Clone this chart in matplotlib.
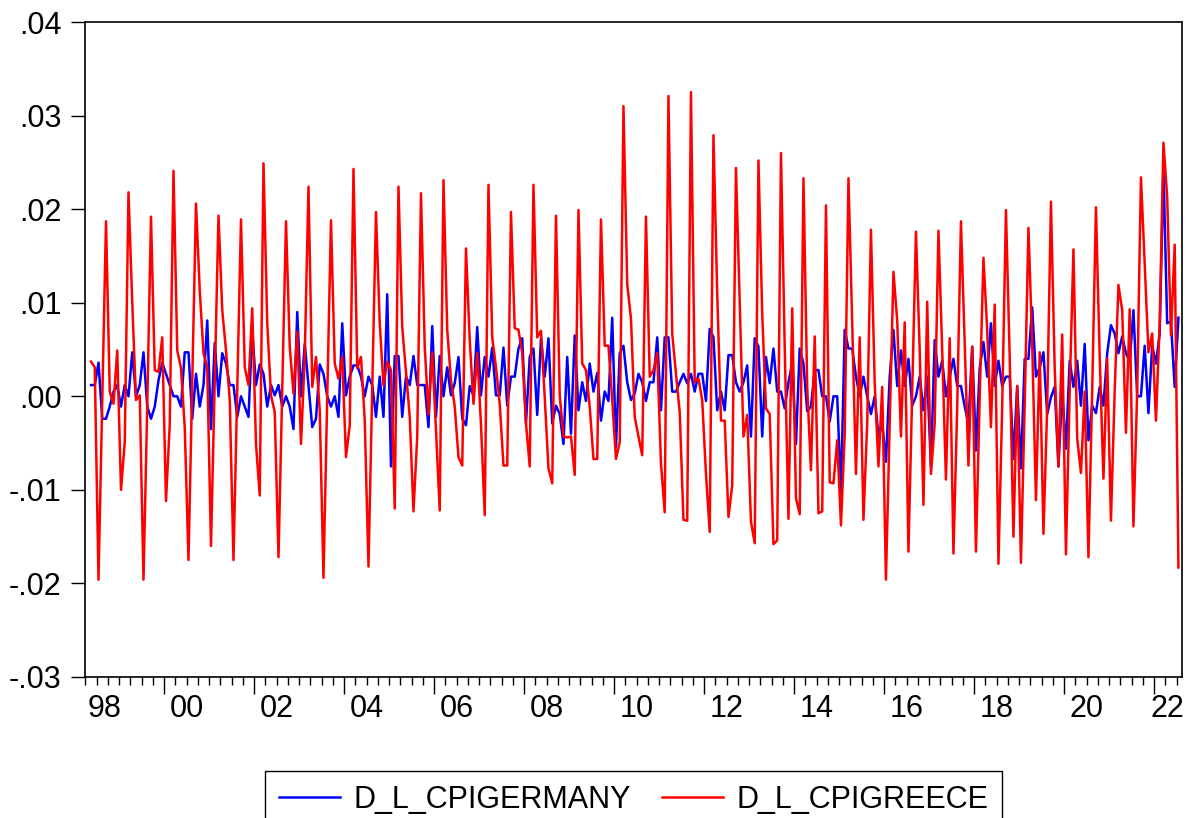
import numpy as np
import matplotlib.pyplot as plt

# monthly log differences of CPI, first observation May 1998
germany = [
    0.0012, 0.0012, 0.0036, -0.0024, -0.0024, -0.0011, 0.0005, 0.0012, -0.0011, 0.0012,
    0.0000, 0.0047, 0.0000, 0.0012, 0.0047, -0.0011, -0.0024, -0.0011, 0.0017, 0.0036,
    0.0024, 0.0012, 0.0000, 0.0000, -0.0011, 0.0047, 0.0047, -0.0024, 0.0024, -0.0011,
    0.0012, 0.0081, -0.0035, 0.0057, 0.0000, 0.0046, 0.0035, 0.0012, 0.0012, -0.0022,
    0.0000, -0.0011, -0.0022, 0.0070, 0.0012, 0.0034, 0.0024, -0.0011, 0.0012, 0.0001,
    0.0012, -0.0011, 0.0000, -0.0011, -0.0035, 0.0090, 0.0000, 0.0056, 0.0012, -0.0033,
    -0.0024, 0.0034, 0.0024, 0.0000, -0.0011, 0.0000, -0.0022, 0.0078, 0.0001, 0.0021,
    0.0033, 0.0033, 0.0021, 0.0000, 0.0021, 0.0012, -0.0022, 0.0021, -0.0022, 0.0109,
    -0.0075, 0.0043, 0.0043, -0.0022, 0.0021, 0.0012, 0.0043, 0.0012, 0.0012, 0.0012,
    -0.0033, 0.0075, -0.0022, 0.0043, 0.0000, 0.0031, 0.0001, 0.0014, 0.0042, -0.0024,
    -0.0031, 0.0011, 0.0001, 0.0074, 0.0001, 0.0042, 0.0021, 0.0052, 0.0001, 0.0001,
    0.0052, -0.0010, 0.0021, 0.0021, 0.0051, 0.0062, -0.0029, 0.0042, 0.0051, -0.0020,
    0.0062, 0.0021, 0.0062, -0.0029, -0.0010, -0.0019, -0.0051, 0.0042, -0.0040, 0.0065,
    -0.0015, 0.0015, -0.0005, 0.0035, 0.0005, 0.0025, -0.0026, 0.0005, -0.0005, 0.0084,
    -0.0054, 0.0046, 0.0054, 0.0015, -0.0004, 0.0003, 0.0024, 0.0015, -0.0005, 0.0015,
    0.0015, 0.0063, -0.0015, 0.0063, 0.0063, 0.0005, 0.0005, 0.0015, 0.0024, 0.0014,
    0.0024, 0.0005, 0.0024, 0.0024, -0.0005, 0.0072, 0.0063, -0.0015, 0.0005, -0.0015,
    0.0044, 0.0044, 0.0015, 0.0005, 0.0015, 0.0033, -0.0043, 0.0062, 0.0053, -0.0043,
    0.0042, 0.0014, 0.0051, 0.0005, 0.0005, -0.0013, 0.0015, 0.0035, -0.0051, 0.0051,
    0.0035, -0.0016, -0.0011, 0.0028, 0.0028, 0.0000, 0.0000, -0.0027, 0.0000, 0.0000,
    -0.0104, 0.0071, 0.0051, 0.0051, 0.0021, 0.0000, 0.0021, 0.0000, -0.0019, 0.0000,
    -0.0043, -0.0029, -0.0070, 0.0021, 0.0071, 0.0011, 0.0049, 0.0011, 0.0040, -0.0010,
    0.0000, 0.0021, -0.0015, 0.0021, -0.0075, 0.0060, 0.0021, 0.0038, 0.0000, 0.0021,
    0.0040, 0.0011, 0.0011, -0.0011, -0.0029, 0.0053, -0.0058, 0.0030, 0.0058, 0.0021,
    0.0078, 0.0011, 0.0038, 0.0011, 0.0021, 0.0021, -0.0067, 0.0011, -0.0077, 0.0040,
    0.0040, 0.0095, 0.0021, 0.0031, 0.0047, -0.0019, -0.0001, 0.0010, -0.0075, 0.0005,
    -0.0056, 0.0038, 0.0010, 0.0038, -0.0010, 0.0056, -0.0047, -0.0010, -0.0018, 0.0010,
    -0.0010, 0.0046, 0.0076, 0.0067, 0.0046, 0.0064, 0.0046, 0.0037, 0.0092, 0.0000,
    0.0000, 0.0054, -0.0018, 0.0054, 0.0035, 0.0067, 0.0245, 0.0078, 0.0080, 0.0010,
    0.0084,
]

greece = [
    0.0037, 0.0031, -0.0196, -0.0004, 0.0187, 0.0005, -0.0008, 0.0049, -0.0100, -0.0049,
    0.0218, 0.0100, -0.0004, 0.0001, -0.0196, -0.0010, 0.0192, 0.0028, 0.0026, 0.0063,
    -0.0112, -0.0030, 0.0241, 0.0049, 0.0030, -0.0033, -0.0175, 0.0014, 0.0206, 0.0113,
    0.0046, 0.0031, -0.0160, 0.0017, 0.0193, 0.0092, 0.0049, -0.0004, -0.0175, 0.0006,
    0.0189, 0.0031, 0.0012, 0.0094, -0.0051, -0.0106, 0.0249, 0.0078, 0.0001, -0.0017,
    -0.0172, 0.0006, 0.0187, 0.0053, 0.0003, 0.0069, -0.0051, 0.0042, 0.0224, 0.0010,
    0.0042, -0.0015, -0.0194, 0.0000, 0.0188, 0.0035, 0.0019, 0.0042, -0.0065, -0.0031,
    0.0243, 0.0030, 0.0042, -0.0026, -0.0182, 0.0006, 0.0197, 0.0078, 0.0012, 0.0037,
    0.0028, -0.0120, 0.0224, 0.0074, 0.0026, -0.0022, -0.0123, -0.0043, 0.0217, 0.0053,
    -0.0019, 0.0047, -0.0036, -0.0122, 0.0231, 0.0071, 0.0017, -0.0011, -0.0065, -0.0074,
    0.0158, 0.0060, -0.0008, 0.0046, -0.0030, -0.0127, 0.0226, 0.0063, 0.0031, -0.0008,
    -0.0074, -0.0074, 0.0197, 0.0073, 0.0071, 0.0046, -0.0029, -0.0075, 0.0226, 0.0063,
    0.0070, -0.0001, -0.0077, -0.0093, 0.0193, 0.0001, -0.0043, -0.0044, -0.0043, -0.0084,
    0.0199, 0.0035, 0.0028, -0.0011, -0.0067, -0.0067, 0.0189, 0.0054, 0.0054, -0.0004,
    -0.0067, -0.0049, 0.0310, 0.0120, 0.0083, -0.0022, -0.0043, -0.0063, 0.0192, 0.0021,
    0.0028, 0.0046, -0.0072, -0.0124, 0.0321, 0.0067, 0.0024, -0.0017, -0.0132, -0.0133,
    0.0325, 0.0015, 0.0019, -0.0004, -0.0083, -0.0145, 0.0279, 0.0110, -0.0026, -0.0026,
    -0.0129, -0.0095, 0.0244, 0.0100, -0.0043, -0.0020, -0.0134, -0.0157, 0.0252, 0.0088,
    -0.0013, -0.0019, -0.0158, -0.0154, 0.0260, 0.0053, -0.0131, 0.0094, -0.0109, -0.0126,
    0.0233, 0.0010, -0.0079, 0.0064, -0.0125, -0.0123, 0.0204, -0.0092, -0.0093, -0.0047,
    -0.0138, -0.0040, 0.0233, 0.0078, -0.0083, 0.0063, -0.0132, -0.0029, 0.0178, 0.0014,
    -0.0075, 0.0010, -0.0196, -0.0029, 0.0133, 0.0081, -0.0043, 0.0079, -0.0166, 0.0006,
    0.0176, 0.0049, -0.0116, 0.0101, -0.0083, -0.0029, 0.0177, 0.0049, -0.0089, 0.0062,
    -0.0168, -0.0011, 0.0187, 0.0056, -0.0074, 0.0053, -0.0166, -0.0001, 0.0148, 0.0071,
    -0.0033, 0.0098, -0.0179, -0.0011, 0.0199, 0.0042, -0.0150, 0.0011, -0.0178, -0.0008,
    0.0180, 0.0056, -0.0111, 0.0047, -0.0147, -0.0011, 0.0208, 0.0030, -0.0075, 0.0066,
    -0.0169, 0.0006, 0.0157, -0.0045, -0.0082, 0.0005, -0.0172, 0.0006, 0.0202, 0.0042,
    -0.0088, 0.0040, -0.0133, 0.0006, 0.0119, 0.0092, -0.0039, 0.0093, -0.0139, 0.0006,
    0.0234, 0.0142, 0.0047, 0.0067, -0.0026, 0.0078, 0.0271, 0.0213, 0.0065, 0.0162,
    -0.0183,
]

start_month = 4  # months after Jan 1998
label_years = np.arange(1998, 2023, 2)
year_labels = ['98', '00', '02', '04', '06', '08', '10', '12', '14', '16', '18', '20', '22']
y_ticks = [-0.03, -0.02, -0.01, 0.00, 0.01, 0.02, 0.03, 0.04]

plt.rcParams['font.family'] = ['Liberation Sans', 'DejaVu Sans']

months = start_month + np.arange(len(greece))

fig = plt.figure(figsize=(11.99, 8.18), dpi=100)
ax = fig.add_axes([85 / 1199, 141 / 818, 1097 / 1199, 655 / 818])

ax.plot(months, germany, color='#0000ff', lw=1.8, label='D_L_CPIGERMANY')
ax.plot(months, greece, color='#ff0000', lw=1.8, label='D_L_CPIGREECE')

ax.set_yticks(y_ticks)
ax.set_yticklabels([f'{v:.2f}'.replace('0.', '.') for v in y_ticks])
ax.tick_params(axis='y', length=10, width=1, pad=7, labelsize=22)

# tick marks on year boundaries, quarterly minor ticks
ax.set_xticks(12 * (label_years - 1998) - 0.5)
ax.set_xticklabels([])
ax.set_xticks(np.arange(-0.5, 300, 3), minor=True)
ax.tick_params(axis='x', which='major', length=12, width=1)
ax.tick_params(axis='x', which='minor', length=6, width=1)

ax.set_ylim(-0.03, 0.04)
ax.set_xlim(start_month - 1.6, start_month + 290.95)

# year labels centred on the part of each year that holds data
first, last = months[0] - 0.5, months[-1] + 0.5
yr_start = 12 * (label_years - 1998) - 0.5
label_pos = (np.maximum(yr_start, first) + np.minimum(yr_start + 12, last)) / 2

sec = ax.secondary_xaxis('bottom')
sec.set_xticks(label_pos)
sec.set_xticklabels(year_labels)
sec.tick_params(length=0, pad=12, labelsize=22)
sec.spines['bottom'].set_visible(False)

for s in ax.spines.values():
    s.set_linewidth(1.2)

leg = fig.legend(loc='upper left', bbox_to_anchor=(265 / 1199, 1 - 771 / 818),
                 ncol=2, fontsize=22, frameon=True, fancybox=False,
                 edgecolor='black', framealpha=1, borderaxespad=0,
                 handlelength=2.0, handletextpad=0.45, columnspacing=1.0,
                 borderpad=0.45)
leg.get_frame().set_linewidth(1.0)

fig.savefig('out.png', dpi=100)
